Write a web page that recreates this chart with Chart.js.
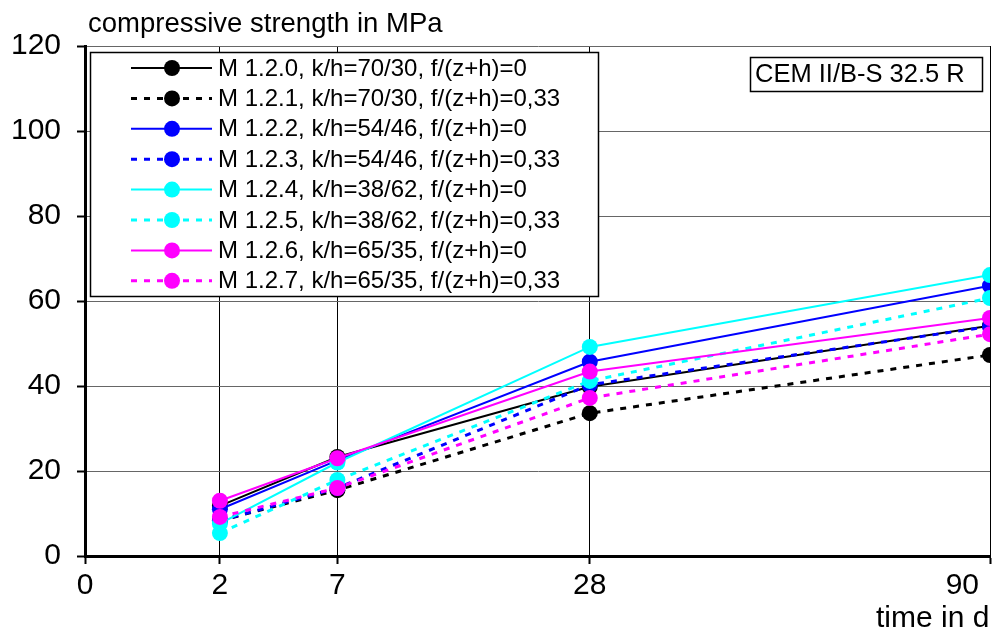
<!DOCTYPE html>
<html>
<head>
<meta charset="utf-8">
<script src="https://cdn.jsdelivr.net/npm/chart.js@4"></script>
<style>
  html, body { margin: 0; padding: 0; background: #fff; }
  #wrap { width: 998px; height: 632px; }
</style>
</head>
<body>
<div id="wrap"><canvas id="chart" width="998" height="632"></canvas></div>
<script>
// test ages in days, x axis runs on sqrt(days)
const days = [2, 7, 28, 90];
const xTickDays = [0, 2, 7, 28, 90];
const yTicks = [0, 20, 40, 60, 80, 100, 120];

const seriesNames = [
    'M 1.2.0, k/h=70/30, f/(z+h)=0',
    'M 1.2.1, k/h=70/30, f/(z+h)=0,33',
    'M 1.2.2, k/h=54/46, f/(z+h)=0',
    'M 1.2.3, k/h=54/46, f/(z+h)=0,33',
    'M 1.2.4, k/h=38/62, f/(z+h)=0',
    'M 1.2.5, k/h=38/62, f/(z+h)=0,33',
    'M 1.2.6, k/h=65/35, f/(z+h)=0',
    'M 1.2.7, k/h=65/35, f/(z+h)=0,33'
];

// compressive strength in MPa at 2, 7, 28, 90 d
const m120 = [11.8, 23.3, 39.8, 54.2];
const m121 = [8.3, 15.5, 33.6, 47.3];
const m122 = [11.0, 22.5, 45.7, 63.6];
const m123 = [8.3, 16.0, 40.3, 54.0];
const m124 = [7.6, 22.0, 49.2, 66.1];
const m125 = [5.4, 17.9, 41.2, 60.7];
const m126 = [13.0, 23.0, 43.4, 56.0];
const m127 = [9.2, 16.0, 37.2, 52.2];

const seriesValues = [m120, m121, m122, m123, m124, m125, m126, m127];
const seriesColors = ['#000000', '#000000', '#0000ff', '#0000ff', '#00ffff', '#00ffff', '#ff00ff', '#ff00ff'];
const seriesDashed = [false, true, false, true, false, true, false, true];

const FONT = '"Liberation Sans", Arial, sans-serif';
const DASH = [6, 7];

const datasets = seriesNames.map((name, i) => ({
    label: name,
    data: days.map((d, k) => ({ x: Math.sqrt(d), y: seriesValues[i][k] })),
    borderColor: seriesColors[i],
    backgroundColor: seriesColors[i],
    borderWidth: seriesDashed[i] ? 3 : 2,
    borderDash: seriesDashed[i] ? DASH : [],
    pointRadius: 8,
    pointHoverRadius: 8,
    pointBorderWidth: 0,
    tension: 0,
    order: seriesNames.length - i
}));

const overlay = {
    id: 'overlay',
    afterDraw(chart) {
        const ctx = chart.ctx;
        const xs = chart.scales.x;
        const area = chart.chartArea;
        ctx.save();

        // x tick labels (last one pulled inside the frame)
        ctx.fillStyle = '#000';
        ctx.font = '30px ' + FONT;
        ctx.textBaseline = 'alphabetic';
        ctx.textAlign = 'left';
        xTickDays.forEach(d => {
            const px = xs.getPixelForValue(Math.sqrt(d));
            const w = ctx.measureText(String(d)).width;
            let left = px - w / 2;
            if (left + w > area.right - 10) left = area.right - 11 - w;
            ctx.fillText(String(d), left, 594);
        });

        // axis titles
        ctx.font = '27.5px ' + FONT;
        ctx.textAlign = 'left';
        ctx.fillText('compressive strength in MPa', 88, 32);
        ctx.font = '30px ' + FONT;
        ctx.fillText('time in d', 876, 627);

        // legend box
        ctx.fillStyle = '#fff';
        ctx.fillRect(90, 52, 508, 244);
        ctx.strokeStyle = '#000';
        ctx.lineWidth = 1.5;
        ctx.strokeRect(90.5, 52.5, 508, 244);

        ctx.font = '24px ' + FONT;
        ctx.textBaseline = 'middle';
        seriesNames.forEach((name, i) => {
            const y = 68 + i * 30.4;
            ctx.strokeStyle = seriesColors[i];
            ctx.lineWidth = seriesDashed[i] ? 3 : 2;
            ctx.setLineDash(seriesDashed[i] ? DASH : []);
            ctx.beginPath();
            ctx.moveTo(131, y);
            ctx.lineTo(212, y);
            ctx.stroke();
            ctx.setLineDash([]);
            ctx.fillStyle = seriesColors[i];
            ctx.beginPath();
            ctx.arc(172, y, 8, 0, Math.PI * 2);
            ctx.fill();
            ctx.fillStyle = '#000';
            ctx.fillText(name, 218, y + 1);
        });

        // cement label
        ctx.fillStyle = '#fff';
        ctx.fillRect(750, 57, 232, 34);
        ctx.strokeStyle = '#000';
        ctx.lineWidth = 1.5;
        ctx.strokeRect(750.5, 57.5, 232, 34);
        ctx.fillStyle = '#000';
        ctx.font = '25.5px ' + FONT;
        ctx.fillText('CEM II/B-S 32.5 R', 755, 75);

        ctx.restore();
    }
};

new Chart(document.getElementById('chart'), {
    type: 'line',
    data: { datasets: datasets },
    options: {
        responsive: false,
        animation: false,
        events: [],
        layout: { padding: { top: 46, right: 0, left: 0, bottom: 0 } },
        plugins: {
            legend: { display: false },
            tooltip: { enabled: false }
        },
        scales: {
            x: {
                type: 'linear',
                min: 0,
                max: Math.sqrt(90),
                afterBuildTicks: (scale) => {
                    scale.ticks = xTickDays.map(d => ({ value: Math.sqrt(d) }));
                },
                afterFit: (scale) => { scale.height = 76; },
                ticks: { display: false },
                grid: { color: '#000', lineWidth: 1, tickLength: 8, tickColor: '#000', tickWidth: 2 },
                border: { color: '#000', width: 3 }
            },
            y: {
                min: 0,
                max: 120,
                afterBuildTicks: (scale) => {
                    scale.ticks = yTicks.map(v => ({ value: v }));
                },
                afterFit: (scale) => { scale.width = 85; },
                ticks: {
                    color: '#000',
                    padding: 16,
                    font: { family: FONT, size: 30 }
                },
                grid: { color: '#666', lineWidth: 1, tickLength: 8, tickColor: '#000', tickWidth: 2 },
                border: { color: '#000', width: 3 }
            }
        }
    },
    plugins: [overlay]
});
</script>
</body>
</html>
